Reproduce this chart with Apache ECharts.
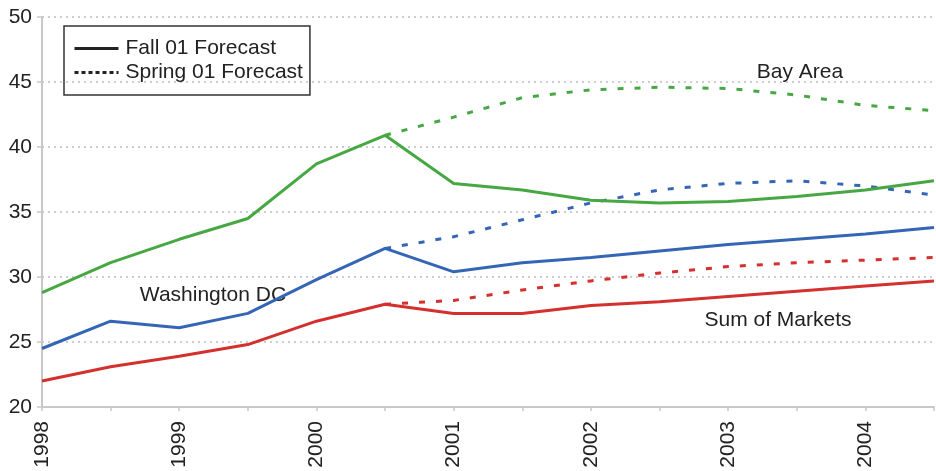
<!DOCTYPE html>
<html>
<head>
<meta charset="utf-8">
<script src="https://cdn.jsdelivr.net/npm/echarts@6/dist/echarts.min.js"></script>
<style>html,body{margin:0;padding:0;background:#fff}#c{width:936px;height:471px}</style>
</head>
<body>
<div id="c"></div>
<script>
const categories = ['1998','1998.5','1999','1999.5','2000','2000.5','2001','2001.5','2002','2002.5','2003','2003.5','2004','2004.5'];
const bayFall   = [28.8,31.1,32.9,34.5,38.7,40.9,37.2,36.7,35.9,35.7,35.8,36.2,36.7,37.4];
const bayPrior  = [null,null,null,null,null,40.9,42.3,43.8,44.4,44.6,44.5,44.0,43.2,42.8];
const dcFall    = [24.5,26.6,26.1,27.2,29.8,32.2,30.4,31.1,31.5,32.0,32.5,32.9,33.3,33.8];
const dcPrior   = [null,null,null,null,null,32.2,33.1,34.4,35.7,36.7,37.2,37.4,37.0,36.3];
const sumFall   = [22.0,23.1,23.9,24.8,26.6,27.9,27.2,27.2,27.8,28.1,28.5,28.9,29.3,29.7];
const sumPrior  = [null,null,null,null,null,27.9,28.2,29.0,29.7,30.3,30.8,31.1,31.3,31.5];
const yTicks = { min: 20, max: 50, interval: 5 };

const FONT = "'Liberation Sans', Arial, Helvetica, sans-serif";
const GREEN = '#47a843', BLUE = '#3566b5', RED = '#d3302e';
const DASH = [6, 11];

function line(name, data, color, dashed) {
  return {
    name, type: 'line', data, symbol: 'none', connectNulls: false,
    lineStyle: { color, width: 3, type: dashed ? DASH : 'solid' },
    itemStyle: { color }, z: dashed ? 2 : 3
  };
}

const chart = echarts.init(document.getElementById('c'));
chart.setOption({
  animation: false,
  backgroundColor: '#fff',
  grid: { left: 42, right: 2, top: 17, bottom: 64 },
  legend: {
    data: ['Fall 01 Forecast', 'Spring 01 Forecast'],
    orient: 'vertical', left: 64, top: 26,
    padding: [12, 7, 12, 9], itemGap: 3, itemWidth: 44, itemHeight: 19,
    borderColor: '#333', borderWidth: 1.5,
    itemStyle: { opacity: 0 },
    lineStyle: { width: 3 },
    textStyle: { fontFamily: FONT, fontSize: 21, color: '#222', padding: [0, 0, 0, 2] }
  },
  xAxis: {
    type: 'category', data: categories, boundaryGap: false,
    axisLine: { lineStyle: { color: '#c8c8c8', width: 2 } },
    axisTick: { show: true, interval: 0, length: 4, lineStyle: { color: '#c8c8c8', width: 1.5 } },
    axisLabel: {
      interval: 0, rotate: 90, margin: 14, fontFamily: FONT, fontSize: 21, color: '#222',
      formatter: v => (v.indexOf('.') >= 0 ? '' : v)
    },
    splitLine: { show: false }
  },
  yAxis: {
    type: 'value', min: yTicks.min, max: yTicks.max, interval: yTicks.interval,
    axisLine: { show: true, lineStyle: { color: '#c8c8c8', width: 2 } },
    axisTick: { show: true, length: 5, lineStyle: { color: '#c8c8c8', width: 1.5 } },
    axisLabel: { margin: 10, fontFamily: FONT, fontSize: 21, color: '#222' },
    splitLine: { show: true, lineStyle: { color: '#bdbdbd', width: 1.5, type: [2, 4] } }
  },
  series: [
    line('Bay Area Prior', bayPrior, GREEN, true),
    line('DC Prior', dcPrior, BLUE, true),
    line('Sum Prior', sumPrior, RED, true),
    line('Bay Area', bayFall, GREEN, false),
    line('Washington DC', dcFall, BLUE, false),
    line('Sum of Markets', sumFall, RED, false),
    { name: 'Fall 01 Forecast', type: 'line', data: [], symbol: 'none', itemStyle: { color: '#222' }, lineStyle: { color: '#222', width: 3 } },
    { name: 'Spring 01 Forecast', type: 'line', data: [], symbol: 'none', itemStyle: { color: '#222' }, lineStyle: { color: '#222', width: 3, type: [4, 3] } }
  ],
  graphic: [
    { type: 'text', x: 800, y: 72, style: { text: 'Bay Area', fontFamily: FONT, fontSize: 21, fill: '#222', align: 'center', verticalAlign: 'middle' } },
    { type: 'text', x: 213, y: 295, style: { text: 'Washington DC', fontFamily: FONT, fontSize: 21, fill: '#222', align: 'center', verticalAlign: 'middle' } },
    { type: 'text', x: 778, y: 320, style: { text: 'Sum of Markets', fontFamily: FONT, fontSize: 21, fill: '#222', align: 'center', verticalAlign: 'middle' } }
  ]
});
</script>
</body>
</html>
